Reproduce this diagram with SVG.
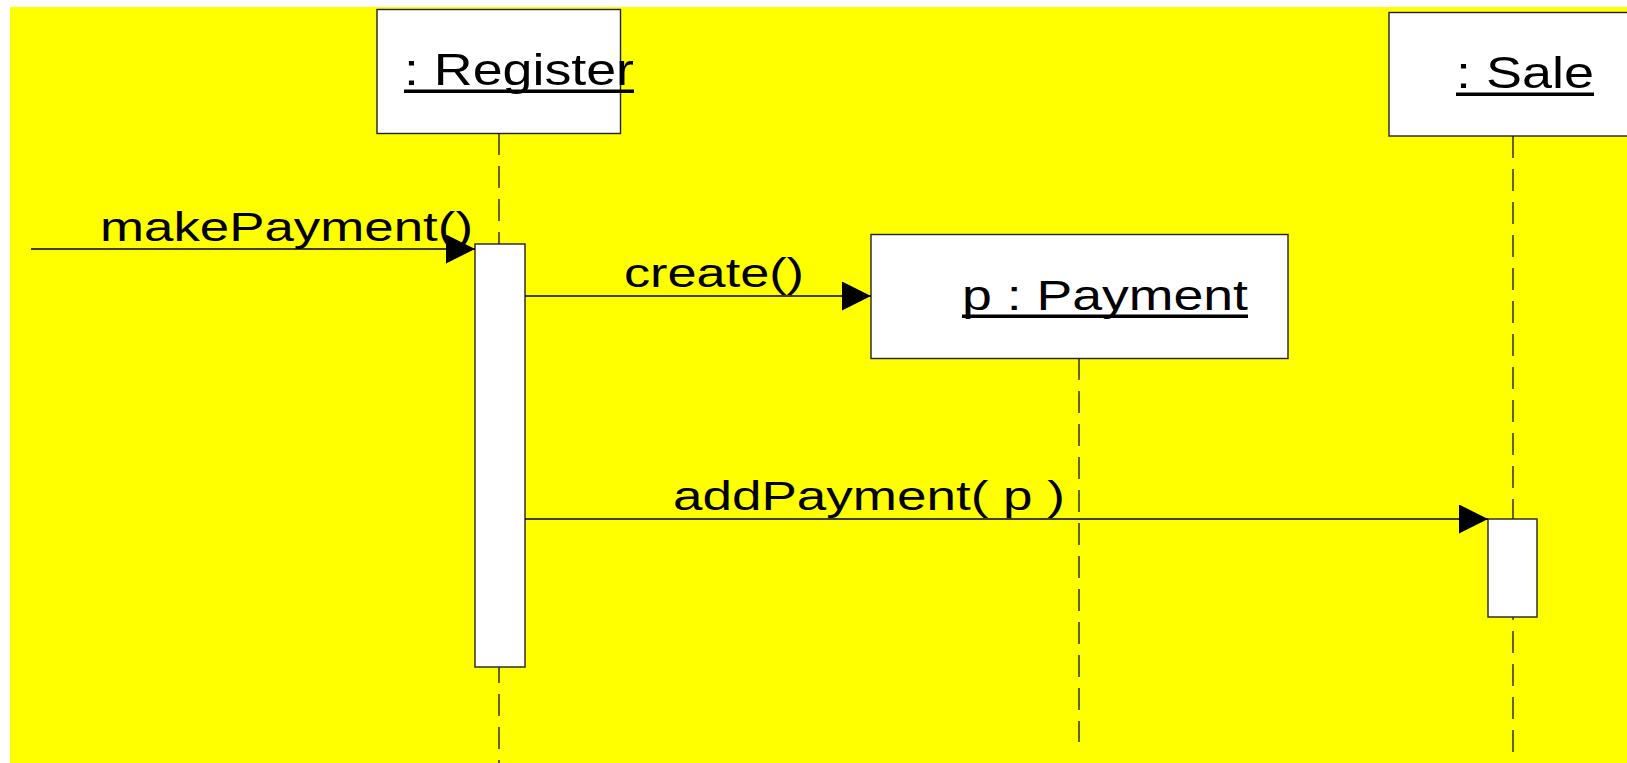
<svg xmlns="http://www.w3.org/2000/svg" width="1627" height="763" viewBox="0 0 1627 763">
<style>
.box{fill:#fff;stroke:#222;stroke-width:1.4}
.life{stroke:#222;stroke-width:1.4;stroke-dasharray:22 11;fill:none}
.msg{stroke:#000;stroke-width:1.4;fill:none}
.lbl{font-family:"Liberation Sans",Arial,sans-serif;font-size:41px;fill:#000}
.node{font-family:"Liberation Sans",Arial,sans-serif;font-size:44px;fill:#000}
.ul{fill:#000}
</style>
<defs>
<marker id="arr" markerUnits="userSpaceOnUse" markerWidth="30" markerHeight="30" refX="29" refY="14.5" orient="auto">
<path d="M0,0 L29,14.5 L0,29 Z" fill="#000"/>
</marker>
</defs>
<rect x="0" y="0" width="1627" height="763" fill="#fff"/>
<rect x="10" y="7" width="1617" height="756" fill="#ffff00"/>
<g id="lifelines">
<line class="life" x1="499" y1="133" x2="499" y2="763"/>
<line class="life" x1="1079" y1="358" x2="1079" y2="742"/>
<line class="life" x1="1513" y1="136" x2="1513" y2="763"/>
</g>
<g id="register">
<rect class="box" x="377" y="9.5" width="243.5" height="124"/>
<text class="node" x="404" y="85" textLength="230" lengthAdjust="spacingAndGlyphs">: Register</text>
<rect class="ul" x="404" y="89.5" width="230" height="3.5"/>
</g>
<g id="sale">
<rect class="box" x="1389" y="12.5" width="250" height="123.5"/>
<text class="node" x="1456" y="88" textLength="138" lengthAdjust="spacingAndGlyphs">: Sale</text>
<rect class="ul" x="1456" y="92.5" width="138" height="3.5"/>
</g>
<g id="payment">
<rect class="box" x="871" y="234.5" width="417" height="124"/>
<text class="node" x="962" y="310" font-size="42" textLength="286" lengthAdjust="spacingAndGlyphs" style="font-size:42px">p : Payment</text>
<rect class="ul" x="962" y="314.5" width="286" height="3.5"/>
</g>
<g id="register-activation">
<rect class="box" x="475" y="244" width="50" height="423"/>
</g>
<g id="sale-activation">
<rect class="box" x="1488" y="519" width="49" height="98"/>
</g>
<g id="connectors">
<line class="msg" x1="31" y1="249" x2="475" y2="249" marker-end="url(#arr)"/>
<line class="msg" x1="525" y1="296" x2="871" y2="296" marker-end="url(#arr)"/>
<line class="msg" x1="525" y1="519" x2="1488" y2="519" marker-end="url(#arr)"/>
<text class="lbl" x="100" y="241" textLength="373" lengthAdjust="spacingAndGlyphs">makePayment()</text>
<text class="lbl" x="624" y="287" textLength="180" lengthAdjust="spacingAndGlyphs">create()</text>
<text class="lbl" x="673" y="510" textLength="392" lengthAdjust="spacingAndGlyphs">addPayment( p )</text>
</g>
</svg>
